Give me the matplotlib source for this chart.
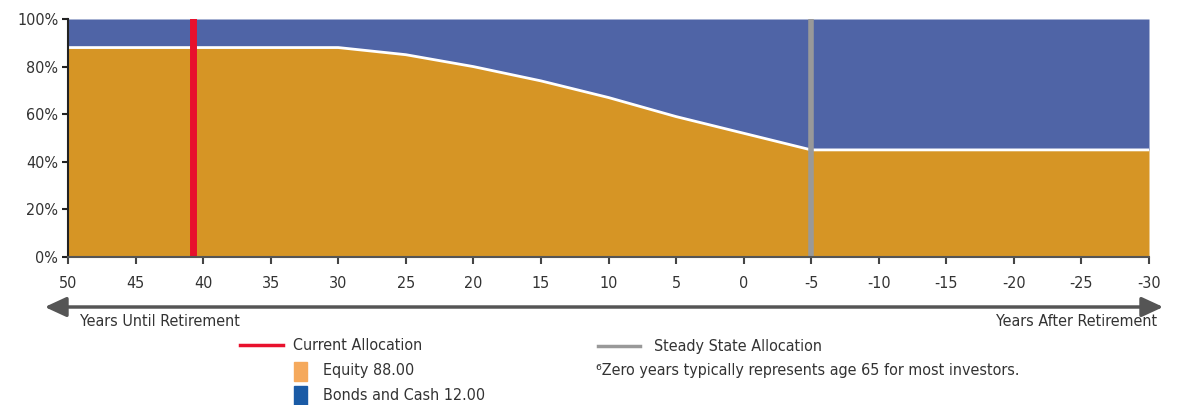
import numpy as np
import matplotlib.pyplot as plt
from matplotlib.patches import Rectangle, FancyArrowPatch
from matplotlib.lines import Line2D

plt.rcParams['font.family'] = ['DejaVu Sans']
plt.rcParams['font.stretch'] = 'condensed'

# glide path: years until retirement vs equity share (%)
years = [50, 45, 40, 35, 30, 25, 20, 15, 10, 5, 0, -5, -10, -15, -20, -25, -30]
equity = [88, 88, 88, 88, 88, 85, 80, 74, 67, 59, 52, 45, 45, 45, 45, 45, 45]
bonds = [100 - e for e in equity]

current_year = 40.75
steady_year = -5
current_equity = 88.00
current_bonds = 12.00

xticks = [50, 45, 40, 35, 30, 25, 20, 15, 10, 5, 0, -5, -10, -15, -20, -25, -30]
yticks = [0, 20, 40, 60, 80, 100]

eq_color = '#D69525'
bd_color = '#4F64A6'
text_color = '#333333'
fs = 11.5

W, H = 1181, 405
fig = plt.figure(figsize=(W / 100, H / 100), dpi=100)
ax = fig.add_axes([68 / W, 1 - 257 / H, (1149 - 68) / W, (257 - 19) / H])

ax.fill_between(years, 0, equity, color=eq_color, lw=0)
ax.fill_between(years, equity, 100, color=bd_color, lw=0)
ax.plot(years, equity, color='white', lw=2)

ax.axvline(current_year, color='#E8112D', lw=5)
ax.axvline(steady_year, color='#999999', lw=4)

ax.set_xlim(50, -30)
ax.set_ylim(0, 100)
ax.set_xticks(xticks)
ax.set_xticklabels([str(t) for t in xticks])
ax.set_yticks(yticks)
ax.set_yticklabels(['%d%%' % t for t in yticks])
ax.tick_params(axis='x', direction='out', length=5, width=1.5, pad=9,
               labelsize=fs, colors='#444444', labelcolor=text_color)
ax.tick_params(axis='y', direction='out', length=4, width=1.5, pad=3,
               labelsize=fs, colors='#222222', labelcolor=text_color)
for s in ['top', 'right']:
    ax.spines[s].set_visible(False)
ax.spines['left'].set_color('#222222')
ax.spines['left'].set_linewidth(1.5)
ax.spines['bottom'].set_color('#555555')
ax.spines['bottom'].set_linewidth(1.5)


def fx(px):
    return px / W


def fy(py):
    return 1 - py / H


# double-headed timeline arrow under the axis
fig.patches.append(FancyArrowPatch(
    (fx(42), fy(307)), (fx(1166), fy(307)), transform=fig.transFigure,
    arrowstyle='<|-|>,head_length=13,head_width=6', color='#555555', lw=2.5,
    mutation_scale=1))

fig.text(fx(80), fy(321), 'Years Until Retirement', fontsize=fs,
         color=text_color, va='center', ha='left')
fig.text(fx(1157), fy(321), 'Years After Retirement', fontsize=fs,
         color=text_color, va='center', ha='right')

# legend
fig.add_artist(Line2D([fx(240), fx(283)], [fy(345), fy(345)], color='#E8112D',
                      lw=2.5, transform=fig.transFigure))
fig.text(fx(293), fy(345), 'Current Allocation', fontsize=fs,
         color=text_color, va='center')
fig.add_artist(Line2D([fx(598), fx(640)], [fy(346), fy(346)], color='#999999',
                      lw=2.5, transform=fig.transFigure))
fig.text(fx(654), fy(346), 'Steady State Allocation', fontsize=fs,
         color=text_color, va='center')
fig.patches.append(Rectangle((fx(294), fy(381)), fx(13), 19 / H,
                             color='#F5A95C', transform=fig.transFigure))
fig.text(fx(323), fy(370), 'Equity %.2f' % current_equity, fontsize=fs,
         color=text_color, va='center')
fig.patches.append(Rectangle((fx(294), fy(405)), fx(13), 19 / H,
                             color='#1A5BA6', transform=fig.transFigure))
fig.text(fx(323), fy(395), 'Bonds and Cash %.2f' % current_bonds,
         fontsize=fs, color=text_color, va='center')
fig.text(fx(596), fy(371), '\u2076Zero years typically represents age 65 for most investors.',
         fontsize=fs, color=text_color, va='center')

fig.savefig('out.png', dpi=100)
